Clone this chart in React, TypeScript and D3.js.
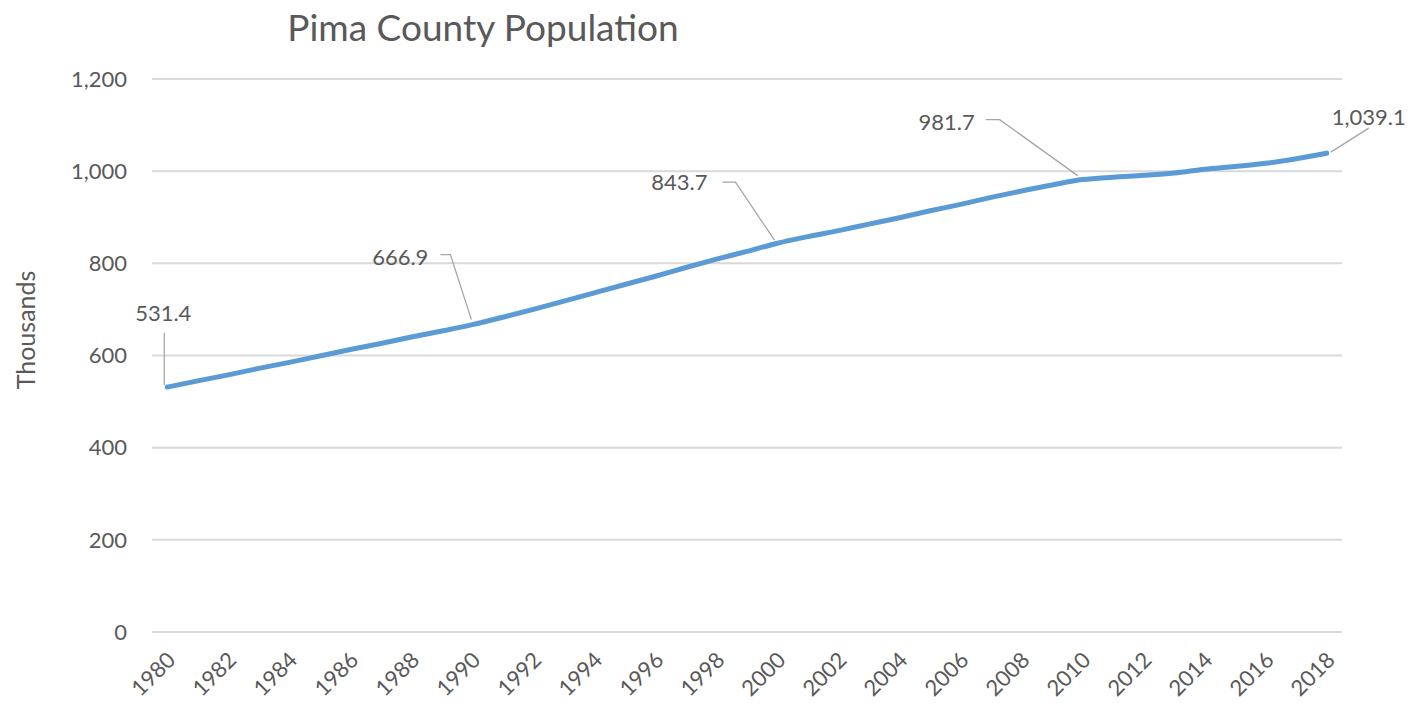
import React from "react";
import * as d3 from "d3";

const years: number[] = d3.range(1980, 2019);
const population: number[] = [
  531.4, 545, 558, 572, 585, 599, 613, 626, 640, 653,
  666.9, 683, 700, 718, 736, 754, 772, 791, 809, 826,
  843.7, 858, 871, 885, 899, 914, 928, 943, 957, 970,
  981.7, 987, 991, 996, 1004, 1010, 1017, 1027, 1039.1,
];
const yTicks: number[] = [0, 200, 400, 600, 800, 1000, 1200];
const labelYears: number[] = [1980, 1990, 2000, 2010, 2018];
const xTickYears: number[] = years.filter((y) => (y - 1980) % 2 === 0);

const W = 1412;
const H = 706;
const left = 152;
const right = 1342;
const top = 79;
const bottom = 632;
const FONT = "Lato, 'Open Sans', sans-serif";
const TXT = "#595959";

const labelLayout: Record<number, { tx: number; ty: number; anchor: string; leader: [number, number][] }> = {
  1980: { tx: -4, ty: -66, anchor: "middle", leader: [[-3, -54], [-3, -2]] },
  1990: { tx: -44, ty: -60, anchor: "end", leader: [[-32, -70], [-22, -70], [-1, -5]] },
  2000: { tx: -70, ty: -53, anchor: "end", leader: [[-55, -61], [-42, -61], [-3, -3]] },
  2010: { tx: -108, ty: -50, anchor: "end", leader: [[-97, -60], [-83, -60], [-5, -4]] },
  2018: { tx: 5, ty: -28, anchor: "start", leader: [[42, -25], [4, -1]] },
};

export default function App() {
  const x = d3.scalePoint<number>().domain(years).range([left, right]).padding(0.5);
  const y = d3.scaleLinear().domain([0, 1200]).range([bottom, top]);
  const line = d3
    .line<number>()
    .x((_, i) => x(years[i]) as number)
    .y((d) => y(d))
    .curve(d3.curveMonotoneX);
  const fmt = d3.format(",.1f");

  return (
    <svg width={W} height={H} style={{ position: "absolute", left: 0, top: 0, background: "#fff" }}>
      <text x={483} y={41} textAnchor="middle" fontFamily={FONT} fontSize={37} fill={TXT}>
        Pima County Population
      </text>
      {yTicks.map((t) => (
        <g key={t}>
          <line x1={left} x2={right} y1={y(t)} y2={y(t)} stroke="#d9d9d9" strokeWidth={2} />
          <text x={127} y={y(t)} dy="0.35em" textAnchor="end" fontFamily={FONT} fontSize={22} fill={TXT}>
            {d3.format(",")(t)}
          </text>
        </g>
      ))}
      <text
        transform={`translate(35,330) rotate(-90)`}
        textAnchor="middle"
        fontFamily={FONT}
        fontSize={25}
        fill={TXT}
      >
        Thousands
      </text>
      {xTickYears.map((yr) => (
        <text
          key={yr}
          transform={`translate(${(x(yr) as number) + 4},${bottom + 24}) rotate(-45)`}
          textAnchor="end"
          dy="0.35em"
          fontFamily={FONT}
          fontSize={22}
          fill={TXT}
        >
          {yr}
        </text>
      ))}
      <path d={line(population) || ""} fill="none" stroke="#5b9bd5" strokeWidth={5} strokeLinecap="round" />
      {labelYears.map((yr) => {
        const i = years.indexOf(yr);
        const px = x(yr) as number;
        const py = y(population[i]);
        const L = labelLayout[yr];
        return (
          <g key={yr}>
            <polyline
              points={L.leader.map(([dx, dy]) => `${px + dx},${py + dy}`).join(" ")}
              fill="none"
              stroke="#a6a6a6"
              strokeWidth={1.3}
            />
            <text x={px + L.tx} y={py + L.ty} textAnchor={L.anchor} fontFamily={FONT} fontSize={22} fill={TXT}>
              {fmt(population[i])}
            </text>
          </g>
        );
      })}
    </svg>
  );
}
